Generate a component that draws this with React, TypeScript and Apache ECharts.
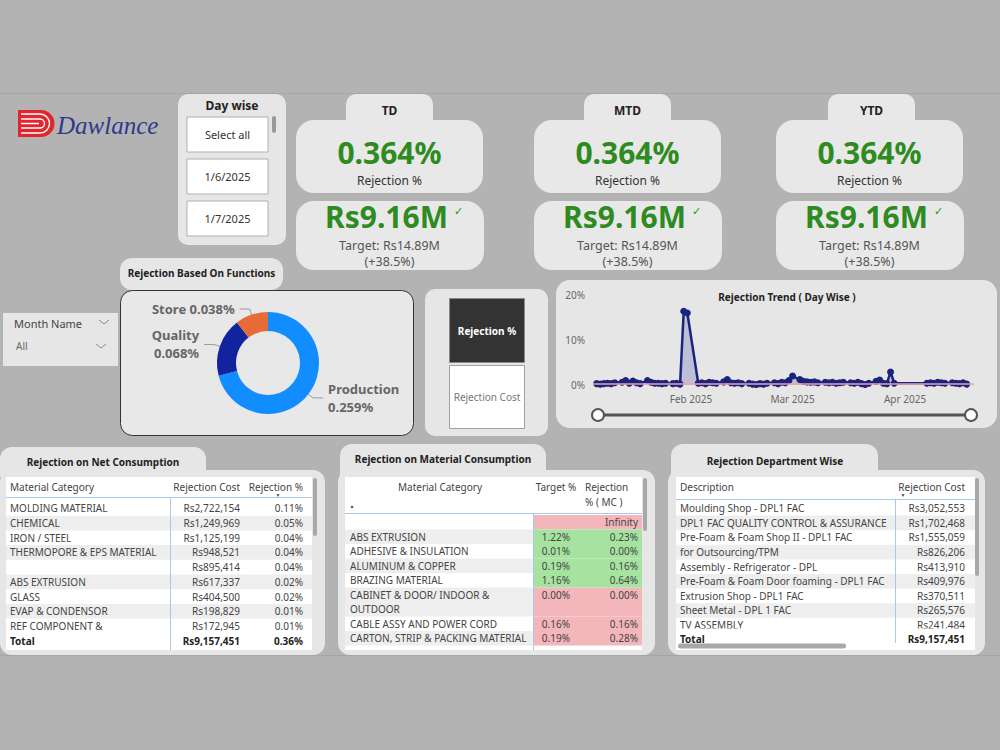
import React, { useEffect, useRef } from "react";
import * as echarts from "echarts";

// ---------------- DATA ----------------
const dayWiseItems = ["Select all", "1/6/2025", "1/7/2025"];
const monthSlicer = ["Month Name", "All"];

const kpiTitles = ["TD", "MTD", "YTD"];
const kpiRejectionPct = [0.364, 0.364, 0.364];
const kpiCostM = [9.16, 9.16, 9.16];
const kpiTargetM = [14.89, 14.89, 14.89];
const kpiDeltaPct = [38.5, 38.5, 38.5];

const functionNames = ["Production", "Quality", "Store"];
const functionValues = [0.259, 0.068, 0.038];

const toggleButtons = ["Rejection %", "Rejection Cost"];

const trendDates = [
  "2025-01-06", "2025-01-07", "2025-01-08", "2025-01-09", "2025-01-10", "2025-01-11",
  "2025-01-13", "2025-01-14", "2025-01-15", "2025-01-16", "2025-01-17", "2025-01-18",
  "2025-01-20", "2025-01-21", "2025-01-22", "2025-01-23", "2025-01-24", "2025-01-25",
  "2025-01-27", "2025-01-28", "2025-01-29", "2025-01-30", "2025-01-31",
  "2025-02-03", "2025-02-04", "2025-02-05", "2025-02-06", "2025-02-07", "2025-02-08",
  "2025-02-10", "2025-02-11", "2025-02-12", "2025-02-13", "2025-02-14", "2025-02-15",
  "2025-02-17", "2025-02-18", "2025-02-19", "2025-02-20", "2025-02-21", "2025-02-22",
  "2025-02-24", "2025-02-25", "2025-02-26", "2025-02-27", "2025-02-28",
  "2025-03-01", "2025-03-03", "2025-03-04", "2025-03-05", "2025-03-06", "2025-03-07", "2025-03-08",
  "2025-03-10", "2025-03-11", "2025-03-12", "2025-03-13", "2025-03-14", "2025-03-15",
  "2025-03-17", "2025-03-18", "2025-03-19", "2025-03-20", "2025-03-21", "2025-03-22",
  "2025-03-24", "2025-03-25", "2025-03-26", "2025-03-27", "2025-03-28", "2025-03-29",
  "2025-04-07", "2025-04-08", "2025-04-09", "2025-04-10", "2025-04-11", "2025-04-12",
  "2025-04-14", "2025-04-15", "2025-04-16", "2025-04-17", "2025-04-18",
];
const trendValues = [
  0.3, 0.2, 0.3, 0.4, 0.3, 0.5,
  0.6, 1.0, 0.4, 0.9, 0.5, 0.3,
  1.0, 0.6, 0.4, 0.4, 0.3, 0.4,
  0.3, 0.4, 0.2, 16.4, 16.0,
  0.4, 0.5, 0.3, 0.6, 0.5, 0.4,
  0.7, 1.2, 0.5, 0.4, 0.5, 0.3,
  0.4, 0.2, 0.1, 0.3, 0.2, 0.4,
  0.5, 0.3, 0.6, 0.5, 1.0,
  2.0, 1.2, 0.8, 0.7, 0.6, 0.7, 0.5,
  0.6, 0.5, 0.6, 0.4, 0.5, 0.6,
  0.5, 0.4, 0.6, 0.3, 0.1, 0.4,
  0.8, 1.1, 0.4, 0.3, 2.9, 0.4,
  0.4, 0.5, 0.4, 0.6, 0.5, 0.4,
  0.5, 0.4, 0.3, 0.5, 0.2,
];
const trendYTicks = [0, 10, 20];

const netCategories = [
  "MOLDING MATERIAL", "CHEMICAL", "IRON / STEEL", "THERMOPORE & EPS MATERIAL", "",
  "ABS EXTRUSION", "GLASS", "EVAP & CONDENSOR", "REF COMPONENT &",
];
const netCost = [2722154, 1249969, 1125199, 948521, 895414, 617337, 404500, 198829, 172945];
const netPct = [0.11, 0.05, 0.04, 0.04, 0.04, 0.02, 0.02, 0.01, 0.01];
const netTotalCost = 9157451;
const netTotalPct = 0.36;

const mcCategories = [
  "", "ABS EXTRUSION", "ADHESIVE & INSULATION", "ALUMINUM & COPPER", "BRAZING MATERIAL",
  "CABINET & DOOR/ INDOOR &\nOUTDOOR", "CABLE ASSY AND POWER CORD", "CARTON, STRIP & PACKING MATERIAL",
];
const mcTarget: (number | null)[] = [null, 1.22, 0.01, 0.19, 1.16, 0.0, 0.16, 0.19];
const mcRejection = [Infinity, 0.23, 0.0, 0.16, 0.64, 0.0, 0.16, 0.28];

const deptNames = [
  "Moulding Shop - DPL1 FAC", "DPL1 FAC QUALITY CONTROL & ASSURANCE", "Pre-Foam & Foam Shop II - DPL1 FAC",
  "for Outsourcing/TPM", "Assembly - Refrigerator - DPL", "Pre-Foam & Foam Door foaming - DPL1 FAC",
  "Extrusion Shop - DPL1 FAC", "Sheet Metal - DPL 1 FAC", "TV ASSEMBLY",
];
const deptCost = [3052553, 1702468, 1555059, 826206, 413910, 409976, 370511, 265576, 241484];
const deptTotalCost = 9157451;

// ---------------- HELPERS ----------------
const FF = '"Noto Sans", "Open Sans", sans-serif';
const GREEN = "#2e8b1f";
const fmtRs = (n: number) => "Rs" + n.toLocaleString("en-US");
const fmtPct = (n: number) => n.toFixed(2) + "%";

let shapesRegistered = false;
function registerShapes() {
  if (shapesRegistered) return;
  shapesRegistered = true;
  echarts.graphic.registerShape(
    "logoOuter",
    echarts.graphic.extendPath("M0 0 H23 A13.5 13.5 0 0 1 23 27 H0 Z", {}) as any
  );
  echarts.graphic.registerShape(
    "logoInner",
    echarts.graphic.extendPath(
      "M3 4 H22 A9.5 9.5 0 0 1 22 23 H3 M3 9 H22 A4.5 4.5 0 0 1 22 18 H3 M3 13.5 H21",
      {}
    ) as any
  );
}

export default function App() {
  const ref = useRef<HTMLDivElement>(null);

  useEffect(() => {
    if (!ref.current) return;
    registerShapes();
    const chart = echarts.init(ref.current, undefined, { renderer: "svg" });

    const G: any[] = [];
    const rect = (x: number, y: number, w: number, h: number, fill: string, r: any = 0, extra: any = {}) =>
      G.push({ type: "rect", silent: true, shape: { x, y, width: w, height: h, r }, style: { fill, ...extra } });
    const txt = (x: number, y: number, text: string, font: string, fill: string, align = "left", vAlign = "middle") =>
      G.push({
        type: "text",
        silent: true,
        x,
        y,
        style: { text, font, fill, textAlign: align, textVerticalAlign: vAlign },
      });
    const line = (x1: number, y1: number, x2: number, y2: number, stroke: string, lw = 1) =>
      G.push({ type: "line", silent: true, shape: { x1, y1, x2, y2 }, style: { stroke, lineWidth: lw } });
    const chevron = (cx: number, cy: number) =>
      G.push({
        type: "polyline",
        silent: true,
        shape: { points: [[cx - 5, cy - 2], [cx, cy + 2], [cx + 5, cy - 2]] },
        style: { stroke: "#8a8a8a", lineWidth: 1, fill: "none" },
      });

    // page frame lines
    line(0, 93.5, 1000, 93.5, "#a6a6a6", 1);
    line(0, 655.5, 1000, 655.5, "#a6a6a6", 1);

    // logo
    G.push({ type: "logoOuter", x: 18, y: 110, style: { fill: "#e3262e" }, silent: true });
    G.push({ type: "logoInner", x: 18, y: 110, style: { fill: "none", stroke: "#ffffff", lineWidth: 1.4 }, silent: true });
    txt(57, 125, "Dawlance", 'italic 25px "Liberation Serif", serif', "#2e3a8f");

    // Day wise slicer
    rect(178, 94, 108, 151, "#e6e6e6", 10);
    txt(232, 105, "Day wise", `bold 12px ${FF}`, "#222", "center");
    dayWiseItems.forEach((it, i) => {
      const y = 117 + i * 42;
      rect(187, y, 81, 35, "#ffffff", 0, { stroke: "#b0b0b0", lineWidth: 1 });
      txt(227.5, y + 17.5, it, `11px ${FF}`, "#333", "center");
    });
    rect(272, 116, 4, 17, "#9a9a9a", 2);

    // KPI cards
    const cardX = [296, 534, 776];
    const tabX = [346, 584, 828];
    kpiTitles.forEach((t, i) => {
      const cx = cardX[i] + 93.5;
      rect(tabX[i], 94, 87, 32, "#e8e8e8", [10, 10, 0, 0]);
      txt(tabX[i] + 43.5, 110, t, `bold 12px ${FF}`, "#222", "center");
      rect(cardX[i], 120, 187, 73, "#e8e8e8", 18);
      txt(cx, 152, kpiRejectionPct[i].toFixed(3) + "%", `bold 30px ${FF}`, GREEN, "center");
      txt(cx, 180, "Rejection %", `12px ${FF}`, "#333", "center");
      rect(cardX[i], 201, 188, 69, "#e8e8e8", 18);
      txt(cx - 3, 216, "Rs" + kpiCostM[i].toFixed(2) + "M", `bold 30px ${FF}`, GREEN, "center");
      txt(cx + 69, 211, "✓", `11px "DejaVu Sans"`, GREEN, "center");
      txt(cx, 245, "Target: Rs" + kpiTargetM[i].toFixed(2) + "M", `12.5px ${FF}`, "#555", "center");
      txt(cx, 261, "(+" + kpiDeltaPct[i].toFixed(1) + "%)", `12.5px ${FF}`, "#555", "center");
    });

    // Month Name slicer
    rect(3, 313, 115, 53, "#e6e6e6", 0);
    txt(14, 323, monthSlicer[0], `11px ${FF}`, "#444");
    chevron(104, 322);
    txt(16, 346, monthSlicer[1], `10px ${FF}`, "#666");
    chevron(101, 346);

    // Donut panel
    rect(120, 258, 163, 32, "#e6e6e6", 12);
    txt(201.5, 273, "Rejection Based On Functions", `bold 10px ${FF}`, "#222", "center");
    rect(120.5, 290.5, 293, 145, "#e8e8e8", 12, { stroke: "#333", lineWidth: 1 });

    // Toggle panel
    rect(425, 289, 123, 147, "#e6e6e6", 10);
    rect(449.5, 298.5, 75, 64, "#333333", 0, { stroke: "#8a8a8a", lineWidth: 1 });
    txt(487, 331, toggleButtons[0], `bold 10px ${FF}`, "#ffffff", "center");
    rect(449.5, 365.5, 75, 63, "#ffffff", 0, { stroke: "#a0a0a0", lineWidth: 1 });
    txt(487, 397, toggleButtons[1], `10px ${FF}`, "#777", "center");

    // Trend panel
    rect(556, 280, 441, 148, "#e6e6e6", 14);
    txt(787, 297, "Rejection Trend ( Day Wise )", `bold 10px ${FF}`, "#222", "center");
    line(597, 415, 972, 415, "#555", 3);
    G.push({ type: "circle", silent: true, shape: { cx: 598, cy: 415, r: 6 }, style: { fill: "#fff", stroke: "#555", lineWidth: 2 } });
    G.push({ type: "circle", silent: true, shape: { cx: 971, cy: 415, r: 6 }, style: { fill: "#fff", stroke: "#555", lineWidth: 2 } });

    // ---------- Table 1: Rejection on Net Consumption ----------
    rect(0, 447, 206, 30, "#e6e6e6", [12, 12, 0, 0]);
    txt(103, 462, "Rejection on Net Consumption", `bold 10px ${FF}`, "#222", "center");
    rect(0, 470, 325, 185, "#e6e6e6", 12);
    rect(6, 477, 306, 173, "#ffffff", 0);
    txt(10, 487, "Material Category", `10px ${FF}`, "#444");
    txt(240, 487, "Rejection Cost", `10px ${FF}`, "#444", "right");
    txt(303, 487, "Rejection %", `10px ${FF}`, "#444", "right");
    txt(278, 495, "▼", `5px ${FF}`, "#444", "center");
    line(6, 497.5, 312, 497.5, "#a9c9e8", 1);
    netCategories.forEach((c, i) => {
      const top = 501 + i * 14.7;
      const cy = top + 7.3;
      if (i % 2 === 1) rect(6, top, 306, 14.7, "#eeeeee");
      txt(10, cy, c, `10px ${FF}`, "#444");
      txt(240, cy, fmtRs(netCost[i]), `10px ${FF}`, "#444", "right");
      txt(303, cy, fmtPct(netPct[i]), `10px ${FF}`, "#444", "right");
    });
    txt(10, 641, "Total", `bold 10px ${FF}`, "#222");
    txt(240, 641, fmtRs(netTotalCost), `bold 10px ${FF}`, "#222", "right");
    txt(303, 641, fmtPct(netTotalPct), `bold 10px ${FF}`, "#222", "right");
    line(170.5, 497, 170.5, 650, "#a9c9e8", 1);
    rect(313, 478, 4, 58, "#a8a8a8", 2);

    // ---------- Table 2: Rejection on Material Consumption ----------
    rect(340, 444, 206, 33, "#e6e6e6", [12, 12, 0, 0]);
    txt(443, 459, "Rejection on Material Consumption", `bold 10px ${FF}`, "#222", "center");
    rect(338, 470, 317, 185, "#e6e6e6", 12);
    rect(345, 477, 297, 173, "#ffffff", 0);
    txt(440, 487, "Material Category", `10px ${FF}`, "#444", "center");
    txt(352, 506, "▲", `5px ${FF}`, "#444", "center");
    txt(556, 487, "Target %", `10px ${FF}`, "#444", "center");
    txt(585, 487, "Rejection", `10px ${FF}`, "#444");
    txt(585, 502, "% ( MC )", `10px ${FF}`, "#444");
    line(345, 513.5, 642, 513.5, "#a9c9e8", 1);
    let rowTop = 515;
    mcCategories.forEach((c, i) => {
      const lines = c.split("\n");
      const h = 14.5 * lines.length;
      if (i % 2 === 1) rect(345, rowTop, 188, h, "#eeeeee");
      const t = mcTarget[i];
      const r = mcRejection[i];
      const good = t !== null && r < t;
      rect(533, rowTop, 109, h, good ? "#a6e3a0" : "#f2b6bb");
      lines.forEach((ln, k) => txt(350, rowTop + 7.25 + k * 14.5, ln, `10px ${FF}`, "#444"));
      txt(570, rowTop + 7.25, t === null ? "" : fmtPct(t), `10px ${FF}`, "#444", "right");
      txt(638, rowTop + 7.25, r === Infinity ? "Infinity" : fmtPct(r), `10px ${FF}`, "#444", "right");
      rowTop += h;
    });
    line(533.5, 513, 533.5, 650, "#a9c9e8", 1);
    rect(643, 478, 4, 53, "#a8a8a8", 2);

    // ---------- Table 3: Rejection Department Wise ----------
    rect(671, 444, 207, 33, "#e6e6e6", [12, 12, 0, 0]);
    txt(775, 461, "Rejection Department Wise", `bold 10px ${FF}`, "#222", "center");
    rect(668, 470, 317, 185, "#e6e6e6", 12);
    rect(676, 477, 299, 173, "#ffffff", 0);
    txt(680, 487, "Description", `10px ${FF}`, "#444");
    txt(965, 487, "Rejection Cost", `10px ${FF}`, "#444", "right");
    txt(903, 495, "▼", `5px ${FF}`, "#444", "center");
    line(676, 499.5, 975, 499.5, "#a9c9e8", 1);
    deptNames.forEach((d, i) => {
      const top = 501 + i * 14.6;
      const cy = top + 7.2;
      if (i % 2 === 1) rect(676, top, 299, 14.6, "#eeeeee");
      txt(680, cy, d, `10px ${FF}`, "#444");
      txt(965, cy, fmtRs(deptCost[i]), `10px ${FF}`, "#444", "right");
    });
    rect(676, 628.5, 299, 21.5, "#ffffff", 0);
    txt(680, 638.5, "Total", `bold 10px ${FF}`, "#222");
    txt(965, 638.5, fmtRs(deptTotalCost), `bold 10px ${FF}`, "#222", "right");
    line(895.5, 499, 895.5, 643, "#a9c9e8", 1);
    rect(678, 643.5, 168, 5, "#a8a8a8", 2.5);
    rect(975, 478, 4, 98, "#a8a8a8", 2);

    const option: any = {
      animation: false,
      backgroundColor: "#b3b3b3",
      textStyle: { fontFamily: FF },
      graphic: { elements: G },
      grid: { left: 593, right: 1000 - 974, top: 295, bottom: 750 - 385, containLabel: false },
      xAxis: {
        type: "time",
        min: "2025-01-05",
        max: "2025-04-20",
        axisLine: { show: false },
        axisTick: { show: false },
        splitLine: { show: false },
        axisLabel: {
          color: "#666",
          fontSize: 10,
          margin: 9,
          hideOverlap: false,
          formatter: {
            year: "{MMM} {yyyy}",
            month: "{MMM} {yyyy}",
            day: "",
            hour: "",
            minute: "",
            second: "",
            millisecond: "",
          },
        },
      },
      yAxis: {
        type: "value",
        min: trendYTicks[0],
        max: trendYTicks[trendYTicks.length - 1],
        interval: trendYTicks[1] - trendYTicks[0],
        axisLine: { show: false },
        axisTick: { show: false },
        splitLine: { show: false },
        axisLabel: { color: "#666", fontSize: 10, margin: 8, formatter: "{value}%" },
      },
      series: [
        {
          type: "pie",
          center: [268, 363],
          radius: [32, 51],
          startAngle: 90,
          clockwise: true,
          avoidLabelOverlap: true,
          label: {
            show: true,
            position: "outside",
            color: "#666",
            fontWeight: "bold",
            fontSize: 13,
            lineHeight: 18,
            fontFamily: FF,
            formatter: (p: any) =>
              p.name === "Store" ? `${p.name} ${p.value.toFixed(3)}%` : `${p.name}\n${p.value.toFixed(3)}%`,
          },
          labelLine: { show: true, length: 6, length2: 10, lineStyle: { color: "#999", width: 1 } },
          data: functionNames.map((n, i) => ({
            name: n,
            value: functionValues[i],
            itemStyle: { color: ["#118DFF", "#12239E", "#E66C37"][i] },
          })),
        },
        {
          type: "line",
          data: trendDates.map((d, i) => [d, trendValues[i]]),
          symbol: "circle",
          symbolSize: 7,
          showSymbol: true,
          itemStyle: { color: "#1a237e" },
          lineStyle: { color: "#1a237e", width: 2.5 },
          areaStyle: { color: "rgba(60,70,170,0.35)" },
          markLine: {
            silent: true,
            symbol: "none",
            label: { show: false },
            lineStyle: { color: "#f0a0a8", width: 1.5, type: "solid" },
            data: [{ yAxis: 0.36 }],
          },
        },
      ],
    };
    chart.setOption(option);
    return () => chart.dispose();
  }, []);

  return (
    <div
      ref={ref}
      style={{ position: "fixed", left: 0, top: 0, width: 1000, height: 750 }}
    />
  );
}
